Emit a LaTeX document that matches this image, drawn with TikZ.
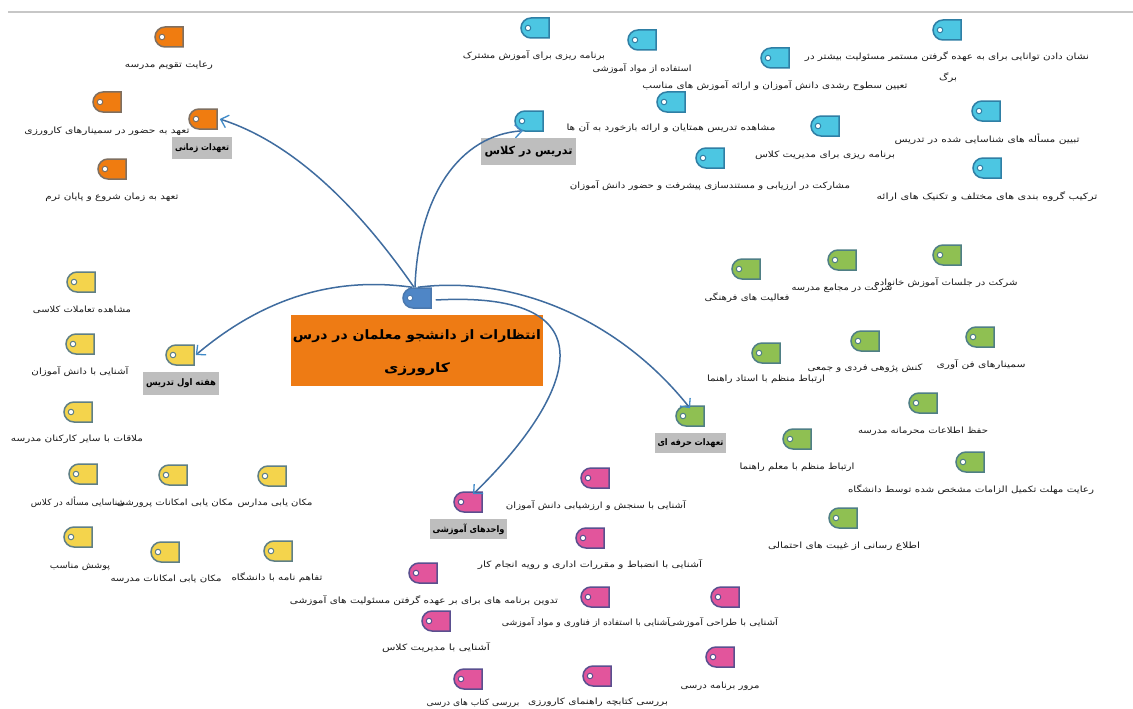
\documentclass[tikz,border=0pt]{standalone}
\usepackage{graphicx}
\usepackage{fontspec}
\usetikzlibrary{arrows.meta,shapes.misc}
\TeXXeTstate=1
\newfontfamily\arabicfont[Script=Arabic]{DejaVu Sans}
\definecolor{orF}{HTML}{F07C10}\definecolor{orB}{HTML}{7F6F60}
\definecolor{blF}{HTML}{4CC6E2}\definecolor{blB}{HTML}{2F7FA5}
\definecolor{grF}{HTML}{8FC052}\definecolor{grB}{HTML}{4F7F85}
\definecolor{yeF}{HTML}{F4D44C}\definecolor{yeB}{HTML}{5F7F85}
\definecolor{piF}{HTML}{E2559C}\definecolor{piB}{HTML}{5A4F8F}
\definecolor{ceF}{HTML}{4F86C6}\definecolor{ceB}{HTML}{4A78AE}
\definecolor{boxO}{HTML}{EE7B14}
\definecolor{hubG}{HTML}{BEBEBE}
\definecolor{wire}{HTML}{3F6C9F}
\definecolor{tip}{HTML}{3F8AC8}
\definecolor{txt}{HTML}{1A1A1A}
\tikzset{
  x=1pt,y=-1pt,
  tagshape/.style={rounded rectangle,rounded rectangle right arc=none,minimum width=28pt,minimum height=20pt,inner sep=0pt,line width=1.5pt},
  holedot/.style={circle,fill=white,draw=#1,line width=1pt,minimum size=5.5pt,inner sep=0pt},
  lbltext/.style={inner sep=0pt,text=txt},
  hubbox/.style={fill=hubG,inner sep=0pt,text=black},
  wireline/.style={draw=wire,line width=1.5pt,-{Straight Barb[length=7pt,width=13pt,color=tip,line width=1.3pt]}}
}
\newcommand\tagn[5]{%
  \node[tagshape,fill=#4,draw=#5] (#1) at (#2,#3) {};
  \node[holedot=#5] (#1h) at ([xshift=-7pt]#1.center) {};}
\newcommand\lbl[5]{\node[lbltext] (#1) at (#2,#3) {\arabicfont\fontsize{8.6}{10}\selectfont\resizebox{#4pt}{\height}{#5}};}
\newcommand\hub[8]{\node[hubbox,minimum width=#4pt,minimum height=#5pt] (#1) at (#2,#3) {\arabicfont\bfseries\fontsize{#7}{12}\selectfont\resizebox{#6pt}{\height}{#8}};}
\begin{document}
\begin{tikzpicture}
\useasboundingbox (0,0) rectangle (1133,709);
\fill[white] (0,0) rectangle (1133,709);
\coordinate (ruleL) at (8,12); \coordinate (ruleR) at (1133,12);
\draw[line width=1.5pt,draw=black!22] (ruleL) -- (ruleR);

% centre
\node[fill=boxO,minimum width=252pt,minimum height=71pt,inner sep=0pt] (root) at (417,350.5) {};
\node[lbltext,text=black] (rootA) at (417,336) {\arabicfont\bfseries\fontsize{13}{16}\selectfont\resizebox{248pt}{\height}{\beginR انتظارات از دانشجو معلمان در درس\endR}};
\node[lbltext,text=black] (rootB) at (417,369) {\arabicfont\bfseries\fontsize{13}{16}\selectfont\resizebox{66pt}{\height}{\beginR کارورزی\endR}};
\tagn{ctr}{417}{298}{ceF}{ceB}

% orange
\tagn{o1}{169}{37}{orF}{orB}\lbl{ol1}{169}{65}{88}{\beginR رعایت تقویم مدرسه\endR}
\tagn{o2}{107}{102}{orF}{orB}\lbl{ol2}{107}{131}{165}{\beginR تعهد به حضور در سمینارهای کارورزی\endR}
\tagn{oh}{203}{119}{orF}{orB}\hub{ohl}{202}{148}{60}{22}{54}{9}{\beginR تعهدات زمانی\endR}
\tagn{o3}{112}{169}{orF}{orB}\lbl{ol3}{112}{197}{133}{\beginR تعهد به زمان شروع و پایان ترم\endR}

% blue
\tagn{b1}{535}{28}{blF}{blB}\lbl{bl1}{534}{56}{142}{\beginR برنامه ریزی برای آموزش مشترک\endR}
\tagn{b2}{642}{40}{blF}{blB}\lbl{bl2}{642}{69}{99}{\beginR استفاده از مواد آموزشی\endR}
\tagn{b3}{775}{58}{blF}{blB}\lbl{bl3}{775}{86}{265}{\beginR تعیین سطوح رشدی دانش آموزان و ارائه آموزش های مناسب\endR}
\tagn{b4}{947}{30}{blF}{blB}\lbl{bl4}{947}{57}{284}{\beginR نشان دادن توانایی برای به عهده گرفتن مستمر مسئولیت بیشتر در\endR}\lbl{bl4b}{948}{78}{18}{برگ}
\tagn{b5}{671}{102}{blF}{blB}\lbl{bl5}{671}{128}{209}{\beginR مشاهده تدریس همتایان و ارائه بازخورد به آن ها\endR}
\tagn{bh}{529}{121}{blF}{blB}\hub{bhl}{528.5}{151.5}{95}{27}{88}{11}{\beginR تدریس در کلاس\endR}
\tagn{b6}{825}{126}{blF}{blB}\lbl{bl6}{825}{155}{140}{\beginR برنامه ریزی برای مدیریت کلاس\endR}
\tagn{b7}{986}{111}{blF}{blB}\lbl{bl7}{987}{139}{185}{\beginR تبیین مسأله های شناسایی شده در تدریس\endR}
\tagn{b8}{710}{158}{blF}{blB}\lbl{bl8}{710}{186}{280}{\beginR مشارکت در ارزیابی و مستندسازی پیشرفت و حضور دانش آموزان\endR}
\tagn{b9}{987}{168}{blF}{blB}\lbl{bl9}{987}{197}{221}{\beginR ترکیب گروه بندی های مختلف و تکنیک های ارائه\endR}

% green
\tagn{g1}{947}{255}{grF}{grB}\lbl{gl1}{946}{283}{143}{\beginR شرکت در جلسات آموزش خانواده\endR}
\tagn{g2}{842}{260}{grF}{grB}\lbl{gl2}{842}{288}{101}{\beginR شرکت در مجامع مدرسه\endR}
\tagn{g3}{746}{269}{grF}{grB}\lbl{gl3}{747}{298}{85}{\beginR فعالیت های فرهنگی\endR}
\tagn{g4}{980}{337}{grF}{grB}\lbl{gl4}{981}{365}{89}{\beginR سمینارهای فن آوری\endR}
\tagn{g5}{865}{341}{grF}{grB}\lbl{gl5}{865}{368}{115}{\beginR کنش پژوهی فردی و جمعی\endR}
\tagn{g6}{766}{353}{grF}{grB}\lbl{gl6}{766}{379}{118}{\beginR ارتباط منظم با استاد راهنما\endR}
\tagn{gh}{690}{416}{grF}{grB}\hub{ghl}{690.5}{443}{71}{20}{66}{9}{\beginR تعهدات حرفه ای\endR}
\tagn{g7}{923}{403}{grF}{grB}\lbl{gl7}{923}{431}{130}{\beginR حفظ اطلاعات محرمانه مدرسه\endR}
\tagn{g8}{797}{439}{grF}{grB}\lbl{gl8}{797}{467}{115}{\beginR ارتباط منظم با معلم راهنما\endR}
\tagn{g9}{970}{462}{grF}{grB}\lbl{gl9}{971}{490}{246}{\beginR رعایت مهلت تکمیل الزامات مشخص شده توسط دانشگاه\endR}
\tagn{g10}{843}{518}{grF}{grB}\lbl{gl10}{844}{546}{152}{\beginR اطلاع رسانی از غیبت های احتمالی\endR}

% yellow
\tagn{y1}{81}{282}{yeF}{yeB}\lbl{yl1}{82}{310}{98}{\beginR مشاهده تعاملات کلاسی\endR}
\tagn{y2}{80}{344}{yeF}{yeB}\lbl{yl2}{80}{372}{97}{\beginR آشنایی با دانش آموزان\endR}
\tagn{yh}{180}{355}{yeF}{yeB}\hub{yhl}{181}{383.5}{76}{23}{70}{9}{\beginR هفته اول تدریس\endR}
\tagn{y3}{78}{412}{yeF}{yeB}\lbl{yl3}{77}{439}{132}{\beginR ملاقات با سایر کارکنان مدرسه\endR}
\tagn{y4}{83}{474}{yeF}{yeB}\lbl{yl4}{78}{502}{94}{\beginR شناسایی مسأله در کلاس\endR}
\tagn{y5}{173}{475}{yeF}{yeB}\lbl{yl5}{175}{503}{116}{\beginR مکان یابی امکانات پرورشی\endR}
\tagn{y6}{272}{476}{yeF}{yeB}\lbl{yl6}{275}{503}{75}{\beginR مکان یابی مدارس\endR}
\tagn{y7}{78}{537}{yeF}{yeB}\lbl{yl7}{80}{566}{60}{\beginR پوشش مناسب\endR}
\tagn{y8}{165}{552}{yeF}{yeB}\lbl{yl8}{166}{579}{111}{\beginR مکان یابی امکانات مدرسه\endR}
\tagn{y9}{278}{551}{yeF}{yeB}\lbl{yl9}{277}{578}{91}{\beginR تفاهم نامه با دانشگاه\endR}

% pink
\tagn{ph}{468}{502}{piF}{piB}\hub{phl}{468.5}{529}{77}{20}{72}{9}{\beginR واحدهای آموزشی\endR}
\tagn{p1}{595}{478}{piF}{piB}\lbl{pl1}{596}{506}{180}{\beginR آشنایی با سنجش و ارزشیابی دانش آموزان\endR}
\tagn{p2}{590}{538}{piF}{piB}\lbl{pl2}{590}{565}{224}{\beginR آشنایی با انضباط و مقررات اداری و رویه انجام کار\endR}
\tagn{p3}{423}{573}{piF}{piB}\lbl{pl3}{424}{601}{268}{\beginR تدوین برنامه های برای بر عهده گرفتن مسئولیت های آموزشی\endR}
\tagn{p4}{436}{621}{piF}{piB}\lbl{pl4}{436}{648}{108}{\beginR آشنایی با مدیریت کلاس\endR}
\tagn{p5}{595}{597}{piF}{piB}\lbl{pl5}{586}{623}{168}{\beginR آشنایی با استفاده از فناوری و مواد آموزشی\endR}
\tagn{p6}{725}{597}{piF}{piB}\lbl{pl6}{723}{623}{110}{\beginR آشنایی با طراحی آموزشی\endR}
\tagn{p7}{720}{657}{piF}{piB}\lbl{pl7}{720}{686}{79}{\beginR مرور برنامه درسی\endR}
\tagn{p8}{597}{676}{piF}{piB}\lbl{pl8}{598}{702}{140}{\beginR بررسی کتابچه راهنمای کارورزی\endR}
\tagn{p9}{468}{679}{piF}{piB}\lbl{pl9}{473}{703}{93}{\beginR بررسی کتاب های درسی\endR}

% connectors
\draw[wireline] ([xshift=-3pt]ctr.north) .. controls (350,195) and (285,140) .. ([xshift=2pt]oh.east);
\draw[wireline] ([xshift=-2pt]ctr.north) .. controls (418,195) and (460,135) .. ([xshift=-6pt,yshift=1pt]bh.south);
\draw[wireline] ([xshift=-5pt]ctr.north) .. controls (325,275) and (255,305) .. ([xshift=1pt]yh.east);
\draw[wireline] ([xshift=1pt]ctr.north) .. controls (515,275) and (620,320) .. ([yshift=-3pt]gh.north);
\draw[wireline] ([xshift=4pt,yshift=-2pt]ctr.east) .. controls (620,290) and (570,400) .. ([xshift=5pt,yshift=-3pt]ph.north);
\end{tikzpicture}
\end{document}
